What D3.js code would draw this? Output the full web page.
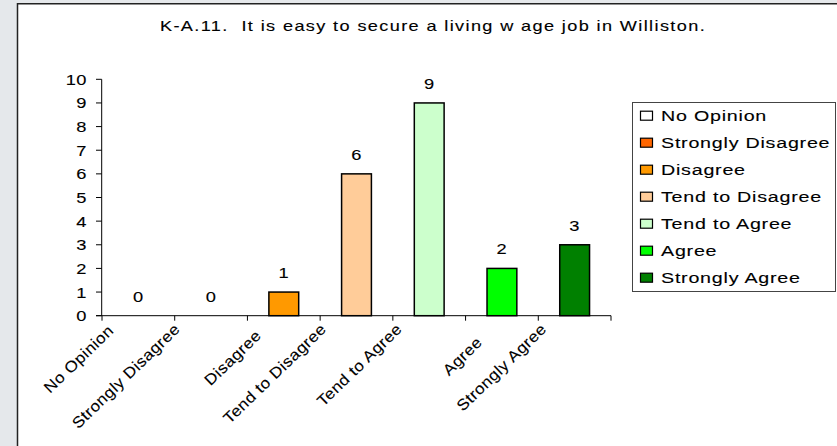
<!DOCTYPE html>
<html>
<head>
<meta charset="utf-8">
<script src="https://cdn.jsdelivr.net/npm/d3@7"></script>
<style>
  html, body { margin: 0; padding: 0; background: #e5e8eb; }
  svg { display: block; }
  text { font-family: "Liberation Sans", Arial, sans-serif; fill: #000; stroke: #000; stroke-width: 0.12; white-space: pre; }
</style>
</head>
<body>
<script>
const title = "K-A.11.  It is easy to secure a living w age job in Williston.";
const categories = ["No Opinion", "Strongly Disagree", "Disagree", "Tend to Disagree", "Tend to Agree", "Agree", "Strongly Agree"];
const values = [0, 0, 1, 6, 9, 2, 3];
const colors = ["#FFFFFF", "#FF6600", "#FF9900", "#FFCC99", "#CCFFCC", "#00FF00", "#008000"];
const yTicks = [0, 1, 2, 3, 4, 5, 6, 7, 8, 9, 10];

const W = 837, H = 446;
const svg = d3.select("body").append("svg").attr("width", W).attr("height", H);

// chart area (white panel with dark top/left border)
svg.append("rect").attr("x", 17).attr("y", 3).attr("width", W - 17).attr("height", H - 3).attr("fill", "#fff");
svg.append("line").attr("x1", 17.5).attr("x2", 17.5).attr("y1", 3).attr("y2", H).attr("stroke", "#222").attr("stroke-width", 1.5);
svg.append("line").attr("x1", 17).attr("x2", W).attr("y1", 3.7).attr("y2", 3.7).attr("stroke", "#222").attr("stroke-width", 1.5);

const x = d3.scaleBand().domain(categories).range([102, 611]).paddingInner(0.59).paddingOuter(0.295);
const step = x.step();
const y = d3.scaleLinear().domain([0, 10]).range([315.7, 79.3]);

// helper for horizontally-widened text
function wtext(g, str, px, py, opts) {
  const sx = opts.sx || 1.25;
  const t = g.append("text")
    .attr("xml:space", "preserve")
    .attr("transform", `translate(${px},${py}) rotate(${opts.rot || 0}) scale(${sx},1)`)
    .attr("font-size", opts.size || 15)
    .attr("letter-spacing", opts.ls || 0)
    .attr("text-anchor", opts.anchor || "start")
    .text(str);
  return t;
}

// title
wtext(svg, title, 433, 31, { size: 14.5, anchor: "middle", sx: 1.25, ls: 1.1 });

// y axis
const gy = svg.append("g");
gy.append("line").attr("x1", 101.7).attr("x2", 101.7).attr("y1", y(10)).attr("y2", y(0)).attr("stroke", "#000");
yTicks.forEach(v => {
  gy.append("line").attr("x1", 96).attr("x2", 101.7).attr("y1", y(v)).attr("y2", y(v)).attr("stroke", "#000");
  wtext(gy, String(v), 87, y(v) + 5.5, { size: 15.5, anchor: "end", sx: 1.18, ls: 0.4 });
});

// x axis
const gx = svg.append("g");
gx.append("line").attr("x1", 96).attr("x2", 611).attr("y1", y(0)).attr("y2", y(0)).attr("stroke", "#000");
const bounds = d3.range(categories.length + 1).map(i => 102 + i * step);
bounds.forEach(bx => {
  gx.append("line").attr("x1", bx).attr("x2", bx).attr("y1", y(0)).attr("y2", y(0) + 5).attr("stroke", "#000");
});
categories.forEach(c => {
  const cx = x(c) + x.bandwidth() / 2;
  const t = wtext(gx, c, 0, 0, { size: 15.5, anchor: "end", rot: -44, sx: 1.1, ls: 0.4 });
  const L = t.node().getComputedTextLength() * 1.1;
  const ex = cx - (13 + 0.12 * L);
  const ey = y(0) + 14.5 + 0.28 * Math.max(0, 95 - L);
  t.attr("transform", `translate(${ex},${ey}) rotate(-44) scale(1.1,1)`);
});

// bars
const gb = svg.append("g");
categories.forEach((c, i) => {
  if (values[i] > 0) {
    gb.append("rect")
      .attr("x", x(c)).attr("width", x.bandwidth())
      .attr("y", y(values[i])).attr("height", y(0) - y(values[i]))
      .attr("fill", colors[i]).attr("stroke", "#000").attr("stroke-width", 1.5);
  }
  wtext(gb, String(values[i]), x(c) + x.bandwidth() / 2, y(values[i]) - 14, { size: 15.5, anchor: "middle", sx: 1.18, ls: 0.4 });
});

// legend
const lg = svg.append("g");
lg.append("rect").attr("x", 632.5).attr("y", 102.5).attr("width", 203).attr("height", 189)
  .attr("fill", "#fff").attr("stroke", "#444").attr("stroke-width", 1);
categories.forEach((c, i) => {
  const cy = 115.7 + i * 27;
  lg.append("rect").attr("x", 640.5).attr("y", cy - 4.5).attr("width", 12).attr("height", 9)
    .attr("fill", colors[i]).attr("stroke", "#000").attr("stroke-width", 1.2);
  wtext(lg, c, 661, cy + 5.5, { size: 15.5, anchor: "start", sx: 1.27, ls: 0.6 });
});
</script>
</body>
</html>
